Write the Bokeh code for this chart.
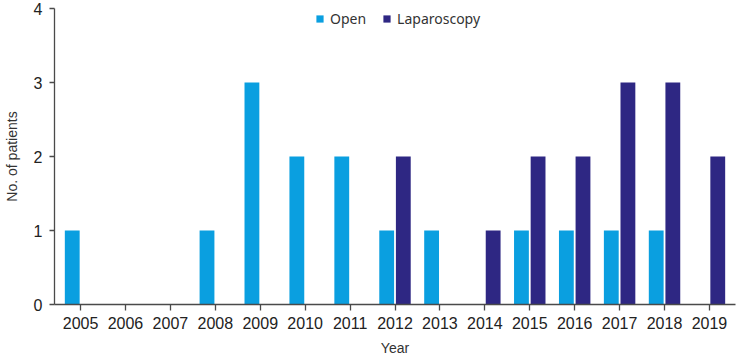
from bokeh.plotting import figure
from bokeh.models import (ColumnDataSource, FactorRange, Range1d, FixedTicker,
                          Legend, LegendItem)
from bokeh.transform import dodge
from bokeh.embed import file_html
from bokeh.resources import INLINE

# ---- data ----
years = ["2005", "2006", "2007", "2008", "2009", "2010", "2011", "2012",
         "2013", "2014", "2015", "2016", "2017", "2018", "2019"]
open_counts = [1, 0, 0, 1, 3, 2, 2, 1, 1, 0, 1, 1, 1, 1, 0]
lap_counts = [0, 0, 0, 0, 0, 0, 0, 2, 0, 1, 2, 2, 3, 3, 2]
y_ticks = [0, 1, 2, 3, 4]
series_names = ["Open", "Laparoscopy"]
colors = ["#0A9FE0", "#2E2783"]
x_title = "Year"
y_title = "No. of patients"

source = ColumnDataSource(dict(year=years, open=open_counts, lap=lap_counts))

p = figure(width=737, height=358,
           x_range=FactorRange(factors=years, range_padding=0.08,
                               range_padding_units="absolute"),
           y_range=Range1d(0, 4),
           output_backend="svg", toolbar_location=None,
           min_border_left=51, min_border_right=2,
           min_border_top=8, min_border_bottom=0)

r_open = p.vbar(x=dodge("year", -0.185, range=p.x_range), top="open", width=0.33,
                source=source, fill_color=colors[0], line_color=None)
r_lap = p.vbar(x=dodge("year", 0.185, range=p.x_range), top="lap", width=0.33,
               source=source, fill_color=colors[1], line_color=None)

axis_color = "#4a4a4a"
tick_font = "Liberation Sans"

p.xgrid.grid_line_color = None
p.ygrid.grid_line_color = None
p.outline_line_color = None

xa = p.xaxis[0]
xa.axis_line_color = axis_color
xa.axis_line_width = 1.3
xa.major_tick_line_color = axis_color
xa.major_tick_line_width = 1.3
xa.major_tick_out = 6
xa.major_tick_in = 0
xa.minor_tick_line_color = None
xa.major_label_text_font = tick_font
xa.major_label_text_font_size = "16px"
xa.major_label_text_color = "#222222"
xa.major_label_standoff = 6
xa.axis_label = x_title
xa.axis_label_text_font = tick_font
xa.axis_label_text_font_size = "14px"
xa.axis_label_text_font_style = "normal"
xa.axis_label_text_color = "#333333"
xa.axis_label_standoff = 8

ya = p.yaxis[0]
ya.ticker = FixedTicker(ticks=y_ticks)
ya.axis_line_color = axis_color
ya.axis_line_width = 1.3
ya.major_tick_line_color = axis_color
ya.major_tick_line_width = 1.3
ya.major_tick_out = 5
ya.major_tick_in = 0
ya.minor_tick_line_color = None
ya.major_label_text_font = tick_font
ya.major_label_text_font_size = "16px"
ya.major_label_text_color = "#222222"
ya.major_label_standoff = 7
ya.axis_label = y_title
ya.axis_label_text_font = tick_font
ya.axis_label_text_font_size = "14px"
ya.axis_label_text_font_style = "normal"
ya.axis_label_text_color = "#333333"
ya.axis_label_standoff = 11

legend = Legend(items=[LegendItem(label=series_names[0], renderers=[r_open]),
                       LegendItem(label=series_names[1], renderers=[r_lap])],
                orientation="horizontal", location=(261, 276),
                padding=0, margin=0, spacing=16, label_standoff=6,
                glyph_width=9, glyph_height=9, label_height=14,
                label_text_font="Noto Sans", label_text_font_size="14px",
                label_text_color="#333333",
                border_line_color=None, background_fill_alpha=0)
p.add_layout(legend, "center")

open("out.html", "w").write(file_html(p, INLINE))
